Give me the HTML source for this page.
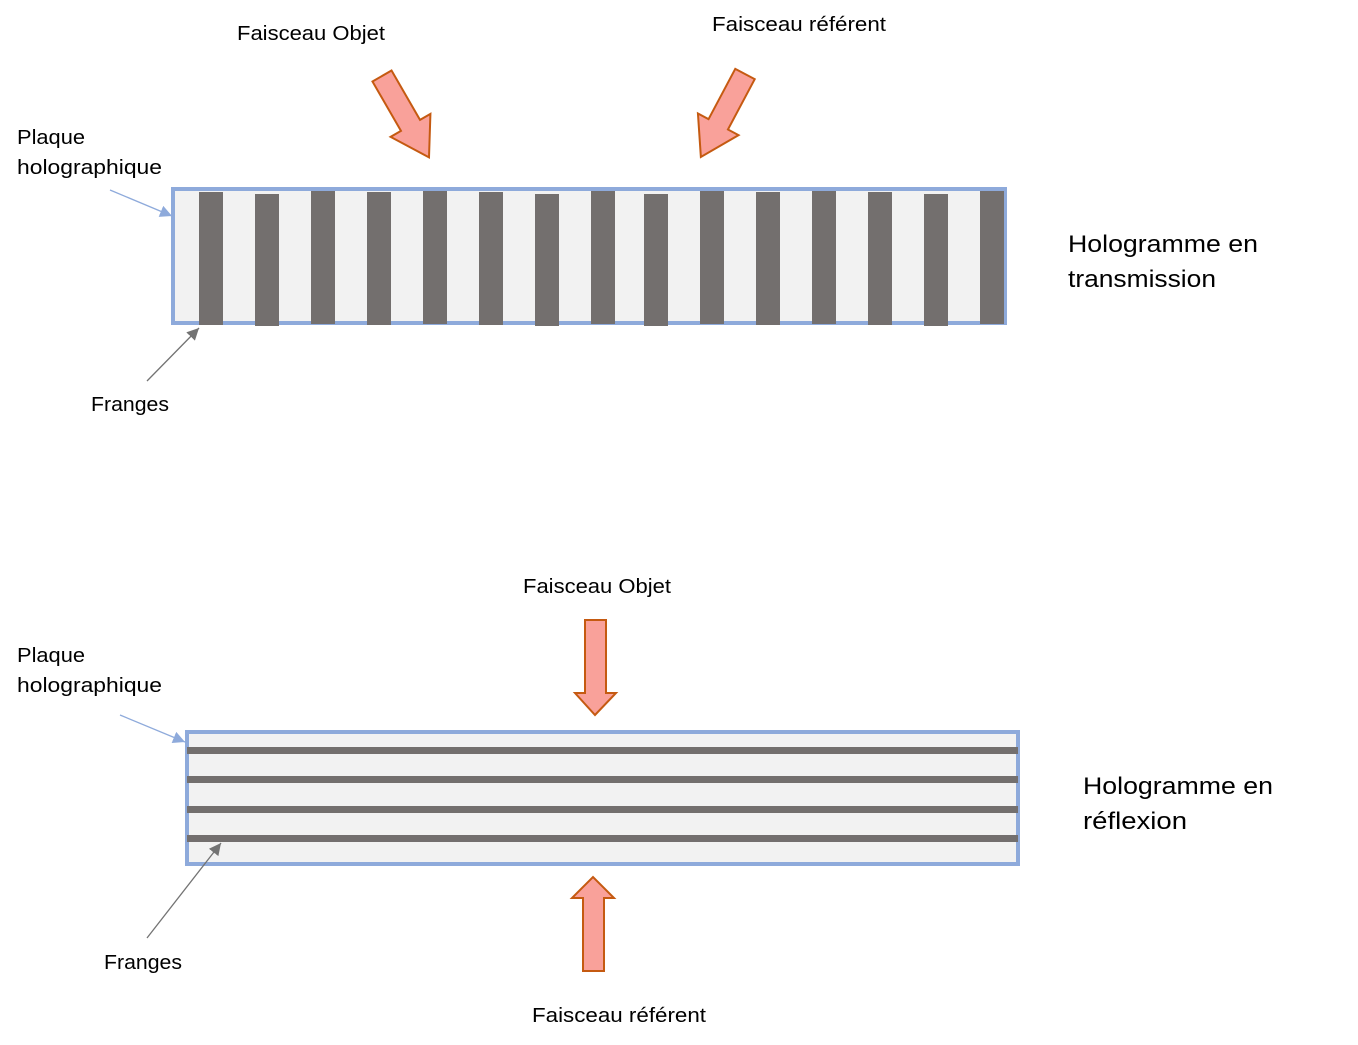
<!DOCTYPE html>
<html><head><meta charset="utf-8"><style>html,body{margin:0;padding:0;background:#fff}svg{display:block}</style></head>
<body>
<svg width="1358" height="1045" viewBox="0 0 1358 1045" xmlns="http://www.w3.org/2000/svg" font-family="Liberation Sans, sans-serif" fill="#000">
<defs>
<marker id="mb" markerWidth="10" markerHeight="10" refX="9" refY="5" orient="auto" markerUnits="userSpaceOnUse"><path d="M0,0 L10,5 L0,10 Z" fill="#8eaadb" transform="scale(1.3) translate(-2,-1.2)"/></marker>
<marker id="mg" markerWidth="14" markerHeight="14" refX="12" refY="6" orient="auto" markerUnits="userSpaceOnUse"><path d="M0,0 L12,6 L0,12 Z" fill="#737373"/></marker>
<marker id="mb2" markerWidth="14" markerHeight="14" refX="12" refY="6" orient="auto" markerUnits="userSpaceOnUse"><path d="M0,0 L12,6 L0,12 Z" fill="#8eaadb"/></marker>
</defs>
<!-- top plate -->
<rect x="173" y="189" width="832" height="134" fill="#f2f2f2" stroke="#8eaadb" stroke-width="4"/>
<g fill="#736f6e">
<rect x="199" y="192" width="24" height="133"/><rect x="255" y="194" width="24" height="132"/>
<rect x="311" y="191" width="24" height="133"/><rect x="367" y="192" width="24" height="133"/>
<rect x="423" y="191" width="24" height="133"/><rect x="479" y="192" width="24" height="133"/>
<rect x="535" y="194" width="24" height="132"/><rect x="591" y="191" width="24" height="133"/>
<rect x="644" y="194" width="24" height="132"/><rect x="700" y="191" width="24" height="133"/>
<rect x="756" y="192" width="24" height="133"/><rect x="812" y="191" width="24" height="133"/>
<rect x="868" y="192" width="24" height="133"/><rect x="924" y="194" width="24" height="132"/>
<rect x="980" y="191" width="24" height="133"/>
</g>
<!-- diagonal arrows -->
<g fill="#f9a19a" stroke="#c55a11" stroke-width="2" stroke-linejoin="miter">
<path transform="translate(382,76) rotate(-30)" d="M-11,0 L11,0 L11,57 L23,57 L0,94 L-23,57 L-11,57 Z"/>
<path transform="translate(745,74) rotate(28)" d="M-11,0 L11,0 L11,57 L23,57 L0,94 L-23,57 L-11,57 Z"/>
</g>
<line x1="110" y1="190" x2="172" y2="216" stroke="#8eaadb" stroke-width="1.3" marker-end="url(#mb2)"/>
<line x1="147" y1="381" x2="199" y2="328" stroke="#737373" stroke-width="1.3" marker-end="url(#mg)"/>
<!-- bottom plate -->
<rect x="187" y="732" width="831" height="132" fill="#f2f2f2" stroke="#8eaadb" stroke-width="4"/>
<g fill="#736f6e">
<rect x="187" y="747" width="831" height="7"/><rect x="187" y="776" width="831" height="7"/>
<rect x="187" y="806" width="831" height="7"/><rect x="187" y="835" width="831" height="7"/>
</g>
<g fill="#f9a19a" stroke="#c55a11" stroke-width="2">
<path d="M585,620 L606,620 L606,693 L616,693 L595,715 L575,693 L585,693 Z"/>
<path d="M583,971 L604,971 L604,898 L614,898 L593,877 L572,898 L583,898 Z"/>
</g>
<line x1="120" y1="715" x2="185" y2="742" stroke="#8eaadb" stroke-width="1.3" marker-end="url(#mb2)"/>
<line x1="147" y1="938" x2="221" y2="843" stroke="#737373" stroke-width="1.3" marker-end="url(#mg)"/>
<!-- text -->
<g font-size="20">
<text x="237" y="40" textLength="148" lengthAdjust="spacingAndGlyphs">Faisceau Objet</text>
<text x="712" y="31" textLength="174" lengthAdjust="spacingAndGlyphs">Faisceau référent</text>
<text x="17" y="144" textLength="68" lengthAdjust="spacingAndGlyphs">Plaque</text>
<text x="17" y="174" textLength="145" lengthAdjust="spacingAndGlyphs">holographique</text>
<text x="91" y="411" textLength="78" lengthAdjust="spacingAndGlyphs">Franges</text>
<text x="523" y="593" textLength="148" lengthAdjust="spacingAndGlyphs">Faisceau Objet</text>
<text x="17" y="662" textLength="68" lengthAdjust="spacingAndGlyphs">Plaque</text>
<text x="17" y="692" textLength="145" lengthAdjust="spacingAndGlyphs">holographique</text>
<text x="104" y="969" textLength="78" lengthAdjust="spacingAndGlyphs">Franges</text>
<text x="532" y="1022" textLength="174" lengthAdjust="spacingAndGlyphs">Faisceau référent</text>
</g>
<g font-size="24">
<text x="1068" y="252" textLength="190" lengthAdjust="spacingAndGlyphs">Hologramme en</text>
<text x="1068" y="287" textLength="148" lengthAdjust="spacingAndGlyphs">transmission</text>
<text x="1083" y="794" textLength="190" lengthAdjust="spacingAndGlyphs">Hologramme en</text>
<text x="1083" y="829" textLength="104" lengthAdjust="spacingAndGlyphs">réflexion</text>
</g>
</svg>
</body></html>
